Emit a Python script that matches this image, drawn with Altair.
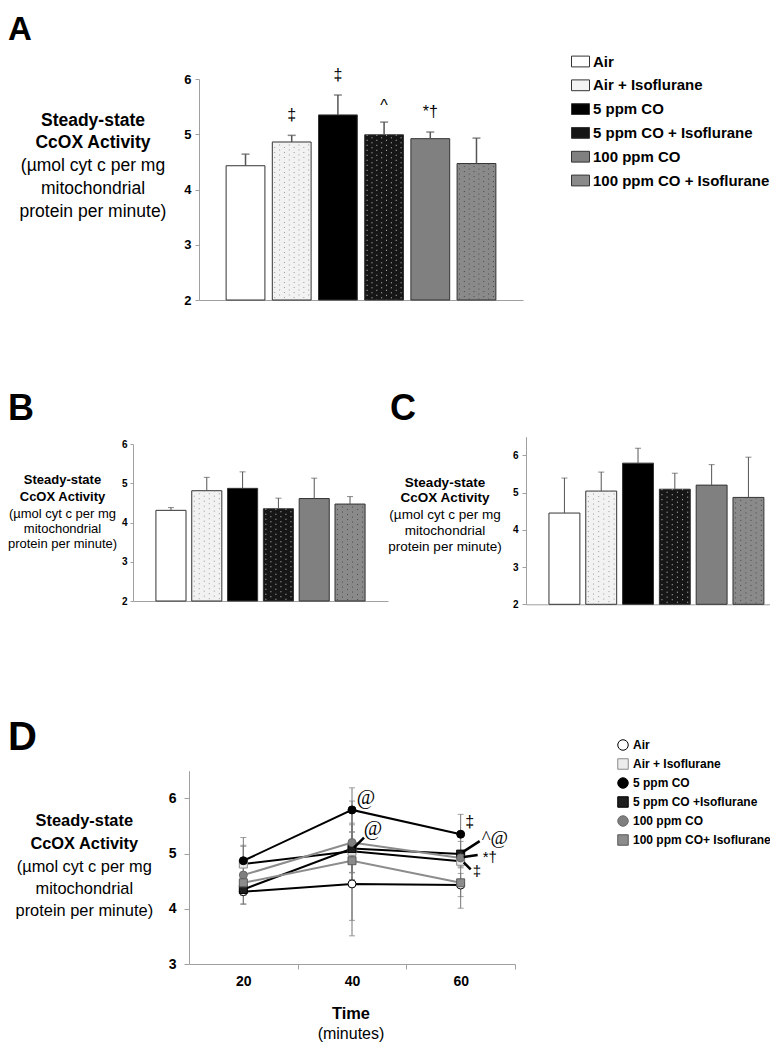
import altair as alt
import pandas as pd

FONT = "Liberation Sans"
SERIF = "Liberation Serif"

# ---------------- data ----------------
categories = ["Air", "Air + Isoflurane", "5 ppm CO", "5 ppm CO + Isoflurane",
              "100 ppm CO", "100 ppm CO + Isoflurane"]
legend_labels_d = ["Air", "Air + Isoflurane", "5 ppm CO", "5 ppm CO +Isoflurane",
                   "100 ppm CO", "100 ppm CO+ Isoflurane"]
times = [20, 40, 60]

# 20 min (panel B)
mean_20 = [4.31, 4.81, 4.87, 4.35, 4.61, 4.47]
se_20 = [0.07, 0.34, 0.42, 0.27, 0.52, 0.19]
# 40 min (panel C)
mean_40 = [4.45, 5.04, 5.79, 5.09, 5.20, 4.87]
se_40 = [0.94, 0.51, 0.40, 0.43, 0.55, 1.08]
# 60 min (panel A)
mean_60 = [4.43, 4.86, 5.35, 4.99, 4.92, 4.47]
se_60 = [0.21, 0.12, 0.36, 0.23, 0.12, 0.46]

annot_60 = ["", "‡", "‡", "^", "*†", ""]

title_lines = ["Steady-state", "CcOX Activity", "(µmol cyt c per mg",
               "mitochondrial", "protein per minute)"]

# ---------------- styles ----------------
bar_fill = ["#ffffff", "#f2f2f2", "#000000", "#161616", "#808080", "#8a8a8a"]
dot_color = ["", "#9a9a9a", "", "#c8c8c8", "", "#4a4a4a"]
marker_fill = ["#ffffff", "#ececec", "#000000", "#1e1e1e", "#7f7f7f", "#8c8c8c"]
marker_stroke = ["#000000", "#8a8a8a", "#000000", "#000000", "#6a6a6a", "#5a5a5a"]
line_color = ["#000000", "#000000", "#000000", "#000000", "#8c8c8c", "#8c8c8c"]
marker_shape = ["circle", "square", "circle", "square", "circle", "square"]

W, H = 762, 1034
AX = "#a0a0a0"
dummy = alt.Data(values=[{"a": 1}])


def bar_panel(mean, se, x0, x1, y_bottom, y_top, y_max, po, al, ncols,
              tick_fs, tick_size, label_pad, err_w, cap, legend, annots):
    df = pd.DataFrame({
        "cat": categories,
        "mean": mean,
        "hi": [round(m + s, 3) for m, s in zip(mean, se)],
        "dot": dot_color,
        "ann": annots,
    })
    xs = alt.Scale(domain=categories, range=[x0, x1], paddingInner=0.16,
                   paddingOuter=po, align=al)
    xax = alt.Axis(orient="bottom", offset=y_bottom - H, labels=False, ticks=False,
                   title=None, domainColor=AX, domainWidth=1, grid=False)
    ys = alt.Scale(domain=[2, y_max], range=[y_bottom, y_top], zero=False, nice=False)
    yax = alt.Axis(orient="left", offset=-x0, values=[2, 3, 4, 5, 6], title=None,
                   labelFontSize=tick_fs, tickSize=tick_size, labelPadding=label_pad,
                   domainColor=AX, tickColor=AX, grid=False)

    def X(**kw):
        return alt.X("cat:N", scale=xs, axis=xax, **kw)

    def Y(f):
        return alt.Y(f, scale=ys, axis=yax)

    base = alt.Chart(df)
    fill_kw = {"scale": alt.Scale(domain=categories, range=bar_fill)}
    fill_kw["legend"] = legend
    layers = [
        base.mark_bar(stroke="#333333", strokeWidth=1).encode(
            x=X(), y=Y("mean:Q"), y2=alt.datum(2),
            fill=alt.Fill("cat:N", **fill_kw))
    ]
    for k in range(ncols):
        layers.append(
            base.transform_filter("datum.dot != ''")
            .mark_rule(strokeDash=[1, 4], strokeWidth=1, strokeDashOffset=(k % 2) * 2.5)
            .encode(x=X(bandPosition=(k + 0.5) / ncols), y=Y("mean:Q"),
                    y2=alt.datum(2), color=alt.Color("dot:N", scale=None))
        )
    layers.append(base.mark_rule(color="#555555", strokeWidth=err_w).encode(
        x=X(), y=Y("mean:Q"), y2="hi:Q"))
    layers.append(base.mark_tick(orient="horizontal", size=cap, thickness=err_w,
                                 color="#555555").encode(x=X(), y=Y("hi:Q")))
    layers.append(
        base.transform_filter("datum.ann != '' && datum.ann != '^'")
        .mark_text(font=FONT, fontSize=16, dy=-15, baseline="alphabetic", color="black")
        .encode(x=X(), y=Y("hi:Q"), text="ann:N"))
    layers.append(
        base.transform_filter("datum.ann == '^'")
        .mark_text(font=FONT, fontSize=16, dy=-11, baseline="alphabetic", color="black")
        .encode(x=X(), y=Y("hi:Q"), text="ann:N"))
    return alt.layer(*layers)


legend_a = alt.Legend(orient="none", legendX=563, legendY=44, title=None,
                      symbolType="M-1,-0.6H1V0.6H-1Z", symbolSize=324,
                      symbolStrokeColor="#333333", symbolStrokeWidth=1,
                      labelFont=FONT, labelFontSize=15, labelFontWeight="bold",
                      labelColor="black", labelLimit=400, rowPadding=5.8,
                      labelOffset=3, padding=0)

panel_a = bar_panel(mean_60, se_60, 191, 515, 292, 71, 6, 0.587, 0.5, 8,
                    13, 4, 4, 1.5, 8, legend_a, annot_60)
panel_b = bar_panel(mean_20, se_20, 125, 380, 593, 436, 6, 0.64, 0.5, 6,
                    10, 3, 3, 1, 6, None, [""] * 6)
panel_c = bar_panel(mean_40, se_40, 518, 762, 596.3, 428.7, 6.5, 0.395, 0.79, 6,
                    10, 4, 4, 1, 6, None, [""] * 6)

# ---------------- panel D ----------------
d_rows = []
for t, means, ses in zip(times, [mean_20, mean_40, mean_60], [se_20, se_40, se_60]):
    for lab, m, s, lc in zip(legend_labels_d, means, ses, line_color):
        d_rows.append({"cat": lab, "t": t, "mean": m, "lo": round(m - s, 3),
                       "hi": round(m + s, 3), "lc": lc})
ddf = pd.DataFrame(d_rows)

DX0, DX1, DY0, DY1 = 181, 507, 956, 762.7
PX_X = (DX1 - DX0) / 60.0
PX_Y = (DY0 - DY1) / 3.5

dxs = alt.Scale(domain=[10, 70], range=[DX0, DX1], zero=False, nice=False)
dxax = alt.Axis(orient="bottom", offset=DY0 - H, values=[20, 30, 40, 50, 60, 70],
                labelExpr="datum.value % 20 == 0 ? datum.label : ''",
                tickOpacity={"condition": {"test": "datum.value % 20 == 0", "value": 0},
                             "value": 1},
                tickSize=5, labelPadding=5, labelFontSize=14, title=None,
                domainColor=AX, tickColor=AX, grid=False)
dys = alt.Scale(domain=[3, 6.5], range=[DY0, DY1], zero=False, nice=False)
dyax = alt.Axis(orient="left", offset=-DX0, values=[3, 4, 5, 6], title=None,
                labelFontSize=14, tickSize=5, labelPadding=8,
                domainColor=AX, tickColor=AX, grid=False)


def DXe(f="t:Q"):
    return alt.X(f, scale=dxs, axis=dxax)


def DYe(f):
    return alt.Y(f, scale=dys, axis=dyax)


legend_d = alt.Legend(orient="none", legendX=609, legendY=731, title=None,
                      symbolSize=110, symbolStrokeWidth=1,
                      labelFont=FONT, labelFontSize=12, labelFontWeight="bold",
                      labelColor="black", labelLimit=400, rowPadding=3.0,
                      labelOffset=4, padding=0)

dbase = alt.Chart(ddf)
d_layers = [
    dbase.mark_rule(color="#777777", strokeWidth=1).encode(
        x=DXe(), y=DYe("lo:Q"), y2="hi:Q"),
    dbase.mark_tick(orient="horizontal", size=6, thickness=1, color="#777777").encode(
        x=DXe(), y=DYe("hi:Q")),
    dbase.mark_tick(orient="horizontal", size=6, thickness=1, color="#777777").encode(
        x=DXe(), y=DYe("lo:Q")),
    dbase.mark_line(strokeWidth=2).encode(
        x=DXe(), y=DYe("mean:Q"), detail="cat:N",
        color=alt.Color("lc:N", scale=None)),
    dbase.mark_point(filled=True, size=64, strokeWidth=1, opacity=1).encode(
        x=DXe(), y=DYe("mean:Q"),
        shape=alt.Shape("cat:N", scale=alt.Scale(domain=legend_labels_d, range=marker_shape),
                        legend=legend_d),
        fill=alt.Fill("cat:N", scale=alt.Scale(domain=legend_labels_d, range=marker_fill),
                      legend=legend_d),
        stroke=alt.Stroke("cat:N", scale=alt.Scale(domain=legend_labels_d, range=marker_stroke),
                          legend=legend_d)),
]

d_annots = [
    (2, 40, "@", SERIF, 20, "center", 14, -12, None),
    (3, 40, "@", SERIF, 20, "center", 21, -20, (2, -1, 12, -11)),
    (2, 60, "‡", FONT, 16, "center", 9, -12, None),
    (3, 60, "^@", SERIF, 19, "left", 21, -16, (2, -2, 19, -13)),
    (4, 60, "*†", FONT, 15, "left", 22, -1, (3, -1, 17, -3)),
    (1, 60, "‡", FONT, 15, "left", 12, 10, (3, 1, 10, 8)),
]
for ci, t, s, fnt, fs, al, dx, dy, lead in d_annots:
    flt = f"datum.cat == '{legend_labels_d[ci]}' && datum.t == {t}"
    if lead is not None:
        a, b, c, d = lead
        d_layers.append(
            dbase.transform_filter(flt)
            .transform_calculate(
                lx1=f"datum.t + {a / PX_X:.4f}", ly1=f"datum.mean - {b / PX_Y:.4f}",
                lx2=f"datum.t + {c / PX_X:.4f}", ly2=f"datum.mean - {d / PX_Y:.4f}")
            .mark_rule(strokeWidth=2.5, color="black")
            .encode(x=DXe("lx1:Q"), y=DYe("ly1:Q"), x2="lx2:Q", y2="ly2:Q"))
    d_layers.append(
        dbase.transform_filter(flt)
        .mark_text(text=s, font=fnt, fontSize=fs, align=al, baseline="middle",
                   dx=dx, dy=dy, color="black")
        .encode(x=DXe(), y=DYe("mean:Q")))

panel_d = alt.layer(*d_layers)


# ---------------- free text ----------------
def txt(s, x, y, size, bold=False, align="center", font=FONT, baseline="middle"):
    return alt.Chart(dummy).mark_text(
        text=s, fontSize=size, fontWeight="bold" if bold else "normal",
        align=align, baseline=baseline, font=font, color="black"
    ).encode(x=alt.value(x), y=alt.value(y))


labels = [
    txt("A", 0, 32, 33, True, "left", baseline="alphabetic"),
    txt("B", 0, 412, 36, True, "left", baseline="alphabetic"),
    txt("C", 382, 412, 36, True, "left", baseline="alphabetic"),
    txt("D", 0, 742, 40, True, "left", baseline="alphabetic"),
    txt("Time", 343, 1006, 16.4, True),
    txt("(minutes)", 343, 1025.5, 16, False),
]
title_specs = [
    (85, [112.7, 135.4, 158.1, 180.8, 203.5], 17.5),
    (54.5, [472, 488.7, 506, 521, 536], 13),
    (437, [474.7, 490.3, 507, 522.7, 538.7], 13.5),
    (76.3, [812.7, 836, 859.3, 881, 903.3], 16.4),
]
for x, ys_, fs in title_specs:
    for i, (line, y) in enumerate(zip(title_lines, ys_)):
        labels.append(txt(line, x, y, fs, i < 2))

chart = alt.layer(panel_a, panel_b, panel_c, panel_d, *labels).resolve_scale(
    x="independent", y="independent", fill="independent", color="independent",
    stroke="independent", shape="independent"
).properties(
    width=W, height=H, padding=0,
    autosize=alt.AutoSizeParams(type="none")
).configure_view(strokeWidth=0, strokeOpacity=0).configure_axis(
    labelFont=FONT, labelFontWeight="bold", labelColor="black", grid=False
)

chart.save("out.html", embed_options={"renderer": "svg", "actions": False})
